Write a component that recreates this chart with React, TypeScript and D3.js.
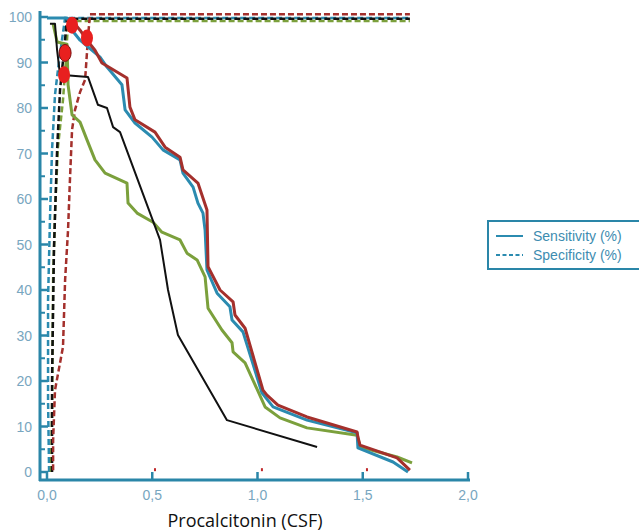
import React from 'react';
import * as d3 from 'd3';

// values (x = procalcitonin, y = %)
const tealSens = [[0, 99.8], [0.095, 99.8], [0.119, 97.1], [0.157, 94.9], [0.252, 91.2], [0.285, 89], [0.356, 85.1], [0.371, 79.6], [0.418, 76.7], [0.499, 73.6], [0.551, 70.8], [0.632, 68.6], [0.646, 65.7], [0.694, 62.6], [0.717, 59.1], [0.741, 56.9], [0.751, 53.2], [0.76, 44.4], [0.808, 39.3], [0.869, 36.3], [0.879, 33.4], [0.931, 30.8], [1.021, 17.4], [1.074, 14.3], [1.235, 11.4], [1.473, 8.6], [1.477, 5.3], [1.644, 2.2], [1.715, 0]];
const redSens = [[0.109, 99.8], [0.157, 97.1], [0.19, 94.9], [0.228, 92.7], [0.261, 89.9], [0.38, 86.6], [0.394, 80.2], [0.418, 77.4], [0.513, 74.7], [0.561, 71.4], [0.632, 69.2], [0.646, 66.4], [0.717, 63.5], [0.76, 57.6], [0.765, 45.1], [0.822, 40], [0.884, 37.4], [0.893, 34.5], [0.941, 31.6], [1.026, 18], [1.045, 16.9], [1.097, 14.7], [1.235, 12.1], [1.473, 8.8], [1.477, 7.7], [1.487, 5.9], [1.663, 3.1], [1.724, 0.4]];
const greenSens = [[0.029, 98.5], [0.048, 94.5], [0.095, 94], [0.1, 85.1], [0.119, 78.5], [0.157, 76.9], [0.19, 73], [0.228, 68.6], [0.276, 65.7], [0.38, 63.5], [0.385, 59.1], [0.428, 56.9], [0.504, 54.9], [0.546, 52.7], [0.632, 51], [0.665, 48.1], [0.713, 46.6], [0.751, 42.9], [0.765, 36], [0.831, 31.2], [0.879, 28.4], [0.884, 26.4], [0.941, 24], [1.036, 14.3], [1.107, 11.9], [1.235, 9.7], [1.473, 8.1], [1.487, 5.5], [1.663, 3.3], [1.734, 2]];
const blackSens = [[0.014, 98.5], [0.038, 98.5], [0.048, 92.7], [0.062, 87.3], [0.195, 86.8], [0.242, 80.7], [0.285, 80], [0.314, 75.8], [0.347, 74.7], [0.537, 51], [0.575, 40], [0.622, 30.1], [0.855, 11.4], [1.283, 5.5]];

const redSpec = [[0.029, 0.4], [0.029, 7], [0.038, 18], [0.062, 24], [0.076, 27.5], [0.086, 42.2], [0.1, 53.2], [0.109, 64.2], [0.119, 75.2], [0.133, 79.6], [0.157, 83.5], [0.181, 86.2], [0.195, 95.6], [0.204, 100.6], [1.724, 100.6]];
const tealSpec = [[0.01, 0], [0.005, 15.8], [0.005, 37.8], [0.014, 55.4], [0.024, 70.8], [0.038, 82.9], [0.052, 88.4], [0.071, 94.9], [0.086, 99.8], [1.724, 99.8]];
const blackSpec = [[0.024, 0], [0.024, 20.2], [0.033, 48.8], [0.048, 70.8], [0.062, 84], [0.081, 92.7], [0.095, 99.6], [1.724, 99.6]];
const greenSpec = [[0.019, 0], [0.024, 13], [0.029, 42.2], [0.038, 56.9], [0.052, 71.4], [0.076, 81.8], [0.09, 90.5], [0.1, 99.1], [1.724, 99.1]];

const cutoffs = [[0.119, 98.2], [0.19, 95.4], [0.086, 92.1], [0.081, 87.3]];
const strayMarks = [[0.513, 0.4], [1.021, 0.4], [1.52, 0.4]];

const xTicks = [0, 0.5, 1, 1.5, 2];
const yTicks = [0, 10, 20, 30, 40, 50, 60, 70, 80, 90, 100];
const yMinor = [5, 15, 25, 35, 45, 55, 65, 75, 85, 95];
const legendItems = ['Sensitivity (%)', 'Specificity (%)'];

const TEAL = '#2b8bb0';
const RED = '#a4302c';
const GREEN = '#7ba03c';
const AXIS = '#2a86a8';
const LABEL = '#78a6c0';

export default function App() {
  const x = d3.scaleLinear().domain([0, 2]).range([47, 468]);
  const y = d3.scaleLinear().domain([0, 100]).range([472, 17]);
  const line = d3.line<number[]>().x((d) => x(d[0])).y((d) => y(d[1]));
  const fmt = (v: number) => v.toFixed(1).replace('.', ',');

  const dashed = [
    { d: tealSpec, c: TEAL },
    { d: greenSpec, c: GREEN },
    { d: blackSpec, c: '#111' },
    { d: redSpec, c: RED },
  ];
  const solid = [
    { d: greenSens, c: GREEN, w: 3 },
    { d: tealSens, c: TEAL, w: 3 },
    { d: redSens, c: RED, w: 3 },
    { d: blackSens, c: '#111', w: 2 },
  ];

  return (
    <svg width={639} height={531} style={{ position: 'absolute', left: 0, top: 0, background: '#fff' }}
      fontFamily="'Liberation Sans', Arial, sans-serif">
      {/* axes */}
      <line x1={40} x2={40} y1={11} y2={481} stroke={AXIS} strokeWidth={3} />
      <line x1={39} x2={470} y1={480} y2={480} stroke={AXIS} strokeWidth={3} />
      {yTicks.map((t) => (
        <g key={'y' + t}>
          <line x1={40} x2={48} y1={y(t)} y2={y(t)} stroke={AXIS} strokeWidth={2.5} />
          <text x={32} y={y(t) + 5} textAnchor="end" fontSize={14} fill={LABEL}>{t}</text>
        </g>
      ))}
      {yMinor.map((t) => (
        <line key={'m' + t} x1={40} x2={45} y1={y(t)} y2={y(t)} stroke={AXIS} strokeWidth={2} />
      ))}
      {xTicks.map((t) => (
        <g key={'x' + t}>
          <line x1={x(t)} x2={x(t)} y1={472} y2={480} stroke={AXIS} strokeWidth={2.5} />
          <text x={x(t)} y={500} textAnchor="middle" fontSize={14} fill={LABEL}>{fmt(t)}</text>
        </g>
      ))}
      <text x={245} y={527} textAnchor="middle" fontSize={18} fill="#111"
        fontFamily="'Open Sans', 'Liberation Sans', sans-serif">Procalcitonin (CSF)</text>

      {/* specificity curves */}
      {dashed.map((s, i) => (
        <path key={'d' + i} d={line(s.d) || ''} fill="none" stroke={s.c} strokeWidth={2.5} strokeDasharray="6,3" />
      ))}
      {/* sensitivity curves */}
      {solid.map((s, i) => (
        <path key={'s' + i} d={line(s.d) || ''} fill="none" stroke={s.c} strokeWidth={s.w} strokeLinejoin="round" />
      ))}

      {cutoffs.map((p, i) => (
        <ellipse key={'c' + i} cx={x(p[0])} cy={y(p[1])} rx={6} ry={8.5} fill="#e8201f"
          stroke={i === 2 ? '#7a1010' : 'none'} strokeWidth={1} />
      ))}
      {strayMarks.map((p, i) => (
        <rect key={'r' + i} x={x(p[0]) - 1} y={y(p[1]) - 2} width={2} height={3} fill="#c0282a" />
      ))}

      {/* legend */}
      <rect x={488} y={221} width={160} height={48} fill="none" stroke={AXIS} strokeWidth={2} />
      {legendItems.map((t, i) => (
        <g key={t}>
          <line x1={496} x2={523} y1={236 + i * 19} y2={236 + i * 19} stroke={TEAL} strokeWidth={2}
            strokeDasharray={i === 1 ? '4,2.5' : undefined} />
          <text x={533} y={241 + i * 19} fontSize={14} fill="#3d8cb0">{t}</text>
        </g>
      ))}
    </svg>
  );
}
